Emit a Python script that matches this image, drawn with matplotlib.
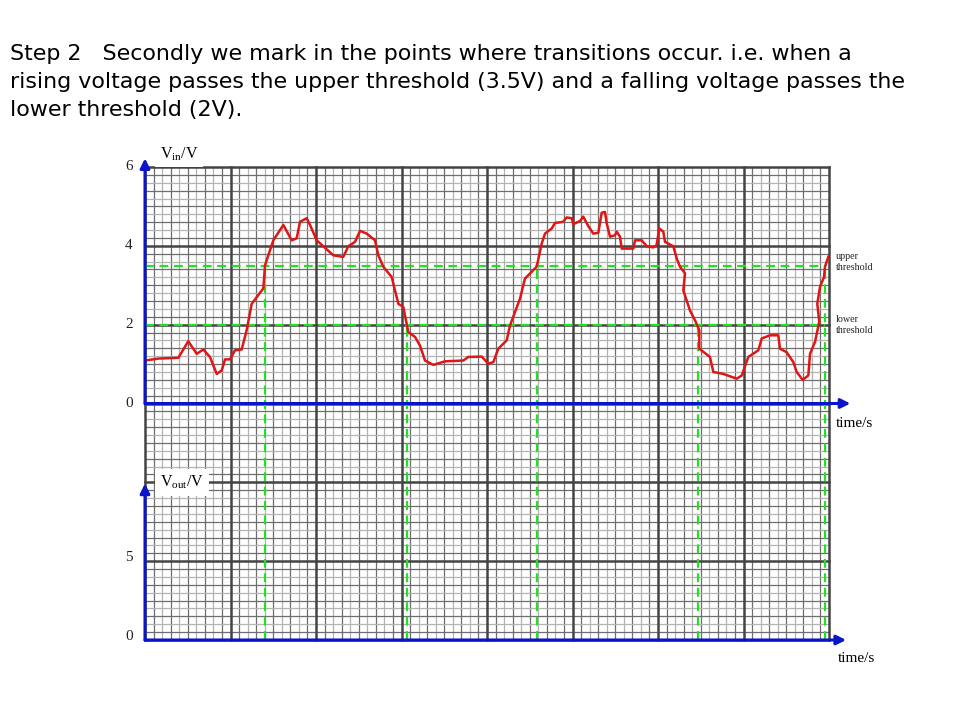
import numpy as np
import matplotlib
matplotlib.use('Agg')
import matplotlib.pyplot as plt

# title lines
title_lines = [
    "Step 2   Secondly we mark in the points where transitions occur. i.e. when a",
    "rising voltage passes the upper threshold (3.5V) and a falling voltage passes the",
    "lower threshold (2V).",
]

# input voltage trace (time in major squares, volts)
t_vin = [0.00, 0.156, 0.39, 0.506, 0.605, 0.682, 0.760, 0.839, 0.897, 0.936,
         0.994, 1.053, 1.131, 1.189, 1.248, 1.384, 1.404, 1.501, 1.618, 1.716,
         1.774, 1.813, 1.891, 1.930, 2.008, 2.202, 2.319, 2.378, 2.456, 2.515,
         2.593, 2.690, 2.729, 2.787, 2.885, 2.963, 3.021, 3.080, 3.158, 3.216,
         3.275, 3.372, 3.509, 3.723, 3.781, 3.938, 4.015, 4.074, 4.132, 4.230,
         4.269, 4.386, 4.444, 4.581, 4.640, 4.678, 4.757, 4.795, 4.892, 4.932,
         4.991, 5.009, 5.088, 5.126, 5.185, 5.243, 5.302, 5.341, 5.380, 5.400,
         5.439, 5.497, 5.517, 5.556, 5.575, 5.711, 5.731, 5.809, 5.868, 5.945,
         5.984, 6.015, 6.062, 6.082, 6.179, 6.219, 6.257, 6.316, 6.296, 6.374,
         6.433, 6.483, 6.483, 6.608, 6.647, 6.764, 6.921, 6.979, 7.056, 7.173,
         7.213, 7.310, 7.407, 7.427, 7.505, 7.583, 7.622, 7.692, 7.758, 7.778,
         7.836, 7.886, 7.863, 7.895, 7.942, 7.953, 7.992]
vin = [1.09, 1.14, 1.16, 1.58, 1.26, 1.37, 1.18, 0.75, 0.84, 1.12,
       1.12, 1.35, 1.37, 1.86, 2.53, 2.92, 3.51, 4.14, 4.53, 4.14,
       4.19, 4.61, 4.70, 4.53, 4.14, 3.76, 3.72, 3.99, 4.10, 4.38,
       4.31, 4.14, 3.76, 3.47, 3.21, 2.53, 2.45, 1.81, 1.69, 1.47,
       1.09, 0.98, 1.07, 1.09, 1.18, 1.19, 1.01, 1.05, 1.39, 1.60,
       1.98, 2.66, 3.17, 3.47, 4.06, 4.31, 4.44, 4.58, 4.61, 4.72,
       4.70, 4.55, 4.63, 4.74, 4.50, 4.31, 4.33, 4.84, 4.86, 4.57,
       4.23, 4.27, 4.36, 4.23, 3.93, 3.93, 4.14, 4.14, 3.99, 3.96,
       4.02, 4.44, 4.36, 4.10, 3.99, 3.68, 3.47, 3.30, 2.87, 2.36,
       2.11, 1.86, 1.39, 1.18, 0.80, 0.75, 0.63, 0.71, 1.18, 1.35,
       1.65, 1.73, 1.73, 1.39, 1.30, 1.05, 0.80, 0.60, 0.71, 1.26,
       1.56, 2.07, 2.53, 2.96, 3.21, 3.47, 3.72]

upper_threshold = 3.5
lower_threshold = 2.0
# transition times and the threshold crossed at each
t_transitions = [1.404, 3.064, 4.581, 6.464, 7.953]
v_transitions = [3.5, 2.0, 3.5, 2.0, 3.5]

vin_ticks = [0, 2, 4, 6]
vout_ticks = [0, 5]
vout_per_vin = 2.5   # lower graph: 5 V per major square, upper: 2 V
vout_offset = -6.0   # lower graph zero sits at -6 in the shared scale

plt.rcParams['mathtext.fontset'] = 'custom'
plt.rcParams['mathtext.rm'] = 'Liberation Serif'
plt.rcParams['mathtext.it'] = 'Liberation Serif:italic'

fig = plt.figure(figsize=(9.6, 7.2), dpi=100)
ax = fig.add_axes([145 / 960, 80 / 720, 684 / 960, 473 / 720])
ax.set_xlim(0, 8)
ax.set_ylim(-6, 6)
ax.axis('off')

blue = '#0a14c8'
green = '#22e022'
major_c = '#444444'

# graph paper
for i, x in enumerate(np.arange(0, 8.001, 0.1)):
    if i % 10 == 0:
        continue
    c = '#6e6e6e' if i % 2 else '#b4b4b4'
    ax.axvline(x, color=c, lw=0.9, zorder=1)
for i, y in enumerate(np.arange(-6, 6.001, 0.2)):
    if i % 10 == 0:
        continue
    c = '#6e6e6e' if i % 2 else '#b4b4b4'
    ax.axhline(y, color=c, lw=0.9, zorder=1)
for x in range(0, 9):
    ax.axvline(x, color=major_c, lw=1.8, zorder=2, clip_on=False)
for y in range(-6, 7, 2):
    ax.axhline(y, color=major_c, lw=1.8, zorder=2, clip_on=False)

# threshold lines
ax.hlines([upper_threshold, lower_threshold], 0, t_transitions[-1],
          colors=green, lw=1.6, linestyles=(0, (4, 2.5)), zorder=3)
ax.vlines(t_transitions, -6, v_transitions, colors=green, lw=1.6,
          linestyles=(0, (4, 2.5)), zorder=3)

ax.plot(t_vin, vin, color='#e01515', lw=1.8, zorder=5, solid_joinstyle='round')

# axes with arrows
arrow = dict(arrowstyle='-|>', color=blue, lw=2.2, mutation_scale=14,
             shrinkA=0, shrinkB=0)
ax.annotate('', xy=(8.25, 0), xytext=(0, 0), arrowprops=arrow, zorder=6,
            annotation_clip=False)
ax.annotate('', xy=(8.2, -6), xytext=(0, -6), arrowprops=arrow, zorder=6,
            annotation_clip=False)
ax.annotate('', xy=(0, 6.22), xytext=(0, 0), arrowprops=arrow, zorder=6,
            annotation_clip=False)
ax.annotate('', xy=(0, -2.03), xytext=(0, -6), arrowprops=arrow, zorder=6,
            annotation_clip=False)

serif = 'Liberation Serif'
for v in vin_ticks:
    ax.text(-0.19, v, str(v), ha='center', va='center', fontsize=11,
            family=serif, color='#222222')
for v in vout_ticks:
    ax.text(-0.19, v / vout_per_vin + vout_offset, str(v), ha='center',
            va='baseline', fontsize=11, family=serif, color='#222222')

ax.text(0.17, 6.33, r'V$_{\mathrm{in}}$/V', ha='left', va='center', fontsize=11.5,
        family=serif, zorder=7,
        bbox=dict(facecolor='white', edgecolor='none', pad=3.5))
ax.text(0.17, -2.0, r'V$_{\mathrm{out}}$/V', ha='left', va='center', fontsize=11.5,
        family=serif, zorder=7,
        bbox=dict(facecolor='white', edgecolor='none', pad=3.5))

ax.text(8.08, 3.6, 'upper\nthreshold', ha='left', va='center', fontsize=7.2,
        family=serif, linespacing=1.3, color='#222222')
ax.text(8.08, 2.0, 'lower\nthreshold', ha='left', va='center', fontsize=7.2,
        family=serif, linespacing=1.3, color='#222222')
ax.text(8.08, -0.52, 'time/s', ha='left', va='center', fontsize=11,
        family=serif)
ax.text(8.1, -6.47, 'time/s', ha='left', va='center', fontsize=11,
        family=serif)

for k, line in enumerate(title_lines):
    fig.text(10 / 960, 1 - (60 + 28 * k) / 720, line, ha='left',
             va='baseline', fontsize=15.9, family='DejaVu Sans')

fig.savefig('out.png', dpi=100)
